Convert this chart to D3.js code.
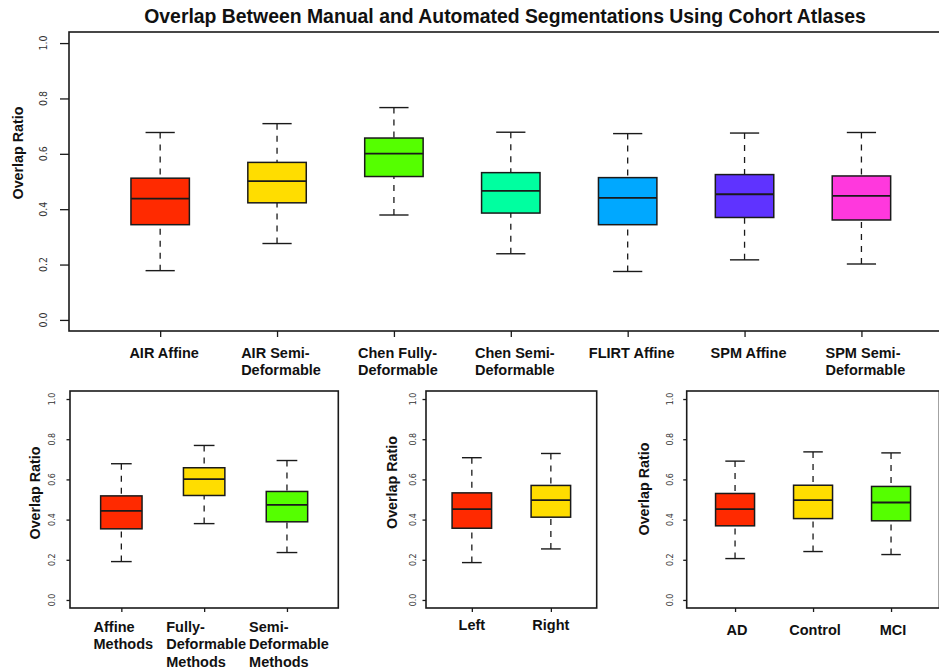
<!DOCTYPE html>
<html>
<head>
<meta charset="utf-8">
<script src="https://cdn.jsdelivr.net/npm/d3@7"></script>
<style>
  html, body { margin: 0; padding: 0; background: #fff; }
  svg { display: block; }
  .bold { font-family: "Liberation Sans", Arial, Helvetica, sans-serif; font-weight: bold; fill: #111; }
  .tick { font-family: "Liberation Sans Narrow", "DejaVu Sans Condensed", sans-serif; font-stretch: condensed; fill: #333; }
</style>
</head>
<body>
<svg id="chart" width="939" height="671"></svg>
<script>
// ---------- DATA ----------
const chartTitle = "Overlap Between Manual and Automated Segmentations Using Cohort Atlases";
const yTitle = "Overlap Ratio";
const yTicks = [0.0, 0.2, 0.4, 0.6, 0.8, 1.0];

// Top panel: registration methods
const methodCategories = ["AIR Affine", "AIR Semi-\nDeformable", "Chen Fully-\nDeformable", "Chen Semi-\nDeformable", "FLIRT Affine", "SPM Affine", "SPM Semi-\nDeformable"];
const methodColors = ["#FF2A00", "#FFDD00", "#55FF00", "#00FFA0", "#00A8FF", "#5F33FF", "#FF38DD"];
const methodLow    = [0.178, 0.276, 0.379, 0.239, 0.175, 0.217, 0.202];
const methodQ1     = [0.344, 0.423, 0.518, 0.386, 0.344, 0.370, 0.361];
const methodMedian = [0.438, 0.501, 0.601, 0.466, 0.441, 0.454, 0.448];
const methodQ3     = [0.512, 0.569, 0.657, 0.532, 0.514, 0.525, 0.520];
const methodHigh   = [0.677, 0.709, 0.767, 0.678, 0.673, 0.675, 0.677];

// Bottom-left: method types
const typeCategories = ["Affine\nMethods", "Fully-\nDeformable\nMethods", "Semi-\nDeformable\nMethods"];
const typeColors = ["#FF2A00", "#FFDD00", "#55FF00"];
const typeLow    = [0.191, 0.380, 0.236];
const typeQ1     = [0.354, 0.520, 0.389];
const typeMedian = [0.443, 0.601, 0.473];
const typeQ3     = [0.518, 0.658, 0.540];
const typeHigh   = [0.678, 0.769, 0.694];

// Bottom-middle: hemisphere
const sideCategories = ["Left", "Right"];
const sideColors = ["#FF2A00", "#FFDD00"];
const sideLow    = [0.186, 0.254];
const sideQ1     = [0.357, 0.412];
const sideMedian = [0.452, 0.497];
const sideQ3     = [0.533, 0.570];
const sideHigh   = [0.708, 0.729];

// Bottom-right: diagnosis group
const groupCategories = ["AD", "Control", "MCI"];
const groupColors = ["#FF2A00", "#FFDD00", "#55FF00"];
const groupLow    = [0.206, 0.241, 0.226];
const groupQ1     = [0.369, 0.405, 0.394];
const groupMedian = [0.452, 0.497, 0.485];
const groupQ3     = [0.530, 0.571, 0.565];
const groupHigh   = [0.691, 0.737, 0.732];

// ---------- LAYOUT ----------
const panels = [
  { cats: methodCategories, cols: methodColors, lo: methodLow, q1: methodQ1, med: methodMedian, q3: methodQ3, hi: methodHigh,
    x0: 69, x1: 952.6, y0: 331, y1: 32, tickLen: 9, xTickLen: 6, tickLabelX: 43.3, tickFont: 10.5,
    titleX: 18, titleY: 153, labelY: 357.5, lineH: 17, labelDx: 4 },
  { cats: typeCategories, cols: typeColors, lo: typeLow, q1: typeQ1, med: typeMedian, q3: typeQ3, hi: typeHigh,
    x0: 70, x1: 338.3, y0: 608, y1: 391, tickLen: 3.5, xTickLen: 4, tickLabelX: 51.7, tickFont: 8.8,
    titleX: 35, titleY: 493, labelY: 631.5, lineH: 17.5, labelDx: 2 },
  { cats: sideCategories, cols: sideColors, lo: sideLow, q1: sideQ1, med: sideMedian, q3: sideQ3, hi: sideHigh,
    x0: 426, x1: 596.7, y0: 608, y1: 391, tickLen: 3.5, xTickLen: 4, tickLabelX: 412.7, tickFont: 8.8,
    titleX: 392.3, titleY: 482.5, labelY: 629.5, lineH: 17.5, labelDx: 0 },
  { cats: groupCategories, cols: groupColors, lo: groupLow, q1: groupQ1, med: groupMedian, q3: groupQ3, hi: groupHigh,
    x0: 686.7, x1: 939.4, y0: 608, y1: 391, tickLen: 3.5, xTickLen: 4, tickLabelX: 670, tickFont: 8.8,
    titleX: 644, titleY: 489, labelY: 635.3, lineH: 17.5, labelDx: 2 }
];

const svg = d3.select("#chart");
const ink = "#1a1a1a";

svg.append("text").attr("class", "bold")
  .attr("x", 505).attr("y", 22.5)
  .attr("text-anchor", "middle").style("font-size", "19.4px")
  .text(chartTitle);

panels.forEach(p => {
  const n = p.cats.length;
  const pad = 0.04 * n;
  const x = d3.scaleLinear().domain([0.5 - pad, n + 0.5 + pad]).range([p.x0, p.x1]);
  const y = d3.scaleLinear().domain([-0.04, 1.04]).range([p.y0, p.y1]);
  const g = svg.append("g");
  const unit = x(2) - x(1);

  // y axis ticks
  const yAxis = d3.axisLeft(y).tickValues(yTicks).tickSize(p.tickLen).tickFormat("");
  const ya = g.append("g").attr("transform", `translate(${p.x0},0)`).call(yAxis);
  ya.select(".domain").remove();
  ya.selectAll(".tick line").attr("stroke", ink).attr("stroke-width", 1.3);
  // tick labels (rotated, parallel to axis)
  g.selectAll(".ylab").data(yTicks).join("text").attr("class", "tick")
    .attr("transform", d => `translate(${p.tickLabelX},${y(d)}) rotate(-90)`)
    .attr("text-anchor", "middle").attr("dominant-baseline", "central")
    .style("font-size", p.tickFont + "px")
    .text(d => d3.format(".1f")(d));

  // x axis ticks
  const idx = d3.range(1, n + 1);
  const xAxis = d3.axisBottom(x).tickValues(idx).tickSize(p.xTickLen).tickFormat("");
  const xa = g.append("g").attr("transform", `translate(0,${p.y0})`).call(xAxis);
  xa.select(".domain").remove();
  xa.selectAll(".tick line").attr("stroke", ink).attr("stroke-width", 1.3);

  // y title
  g.append("text").attr("class", "bold")
    .attr("transform", `translate(${p.titleX},${p.titleY}) rotate(-90)`)
    .attr("text-anchor", "middle").attr("dominant-baseline", "central")
    .style("font-size", "14.3px").text(yTitle);

  // boxes
  const data = idx.map(i => ({ i, lo: p.lo[i-1], q1: p.q1[i-1], med: p.med[i-1], q3: p.q3[i-1], hi: p.hi[i-1], col: p.cols[i-1] }));
  const bw = 0.25 * unit, cw = 0.125 * unit;
  const b = g.selectAll(".box").data(data).join("g");
  b.append("line").attr("x1", d => x(d.i)).attr("x2", d => x(d.i))
    .attr("y1", d => y(d.hi)).attr("y2", d => y(d.q3))
    .attr("stroke", ink).attr("stroke-width", 1.3).attr("stroke-dasharray", "6,6");
  b.append("line").attr("x1", d => x(d.i)).attr("x2", d => x(d.i))
    .attr("y1", d => y(d.lo)).attr("y2", d => y(d.q1))
    .attr("stroke", ink).attr("stroke-width", 1.3).attr("stroke-dasharray", "6,6");
  b.append("line").attr("x1", d => x(d.i) - cw).attr("x2", d => x(d.i) + cw)
    .attr("y1", d => y(d.hi)).attr("y2", d => y(d.hi)).attr("stroke", ink).attr("stroke-width", 1.4);
  b.append("line").attr("x1", d => x(d.i) - cw).attr("x2", d => x(d.i) + cw)
    .attr("y1", d => y(d.lo)).attr("y2", d => y(d.lo)).attr("stroke", ink).attr("stroke-width", 1.4);
  b.append("rect").attr("x", d => x(d.i) - bw).attr("width", 2 * bw)
    .attr("y", d => y(d.q3)).attr("height", d => y(d.q1) - y(d.q3))
    .attr("fill", d => d.col).attr("stroke", ink).attr("stroke-width", 1.5);
  b.append("line").attr("x1", d => x(d.i) - bw).attr("x2", d => x(d.i) + bw)
    .attr("y1", d => y(d.med)).attr("y2", d => y(d.med)).attr("stroke", ink).attr("stroke-width", 1.8);

  // frame
  g.append("rect").attr("x", p.x0).attr("y", p.y1).attr("width", p.x1 - p.x0).attr("height", p.y0 - p.y1)
    .attr("fill", "none").attr("stroke", ink).attr("stroke-width", 1.6);

  // category labels: left-aligned lines, block centered on box
  data.forEach(d => {
    const lines = p.cats[d.i - 1].split("\n");
    const t = g.append("text").attr("class", "bold").style("font-size", "14.5px");
    lines.forEach((ln, k) => {
      t.append("tspan").attr("y", p.labelY + k * p.lineH).text(ln);
    });
    let maxW = 0;
    t.selectAll("tspan").each(function() { maxW = Math.max(maxW, this.getComputedTextLength()); });
    t.selectAll("tspan").attr("x", x(d.i) + p.labelDx - maxW / 2);
  });
});
</script>
</body>
</html>
